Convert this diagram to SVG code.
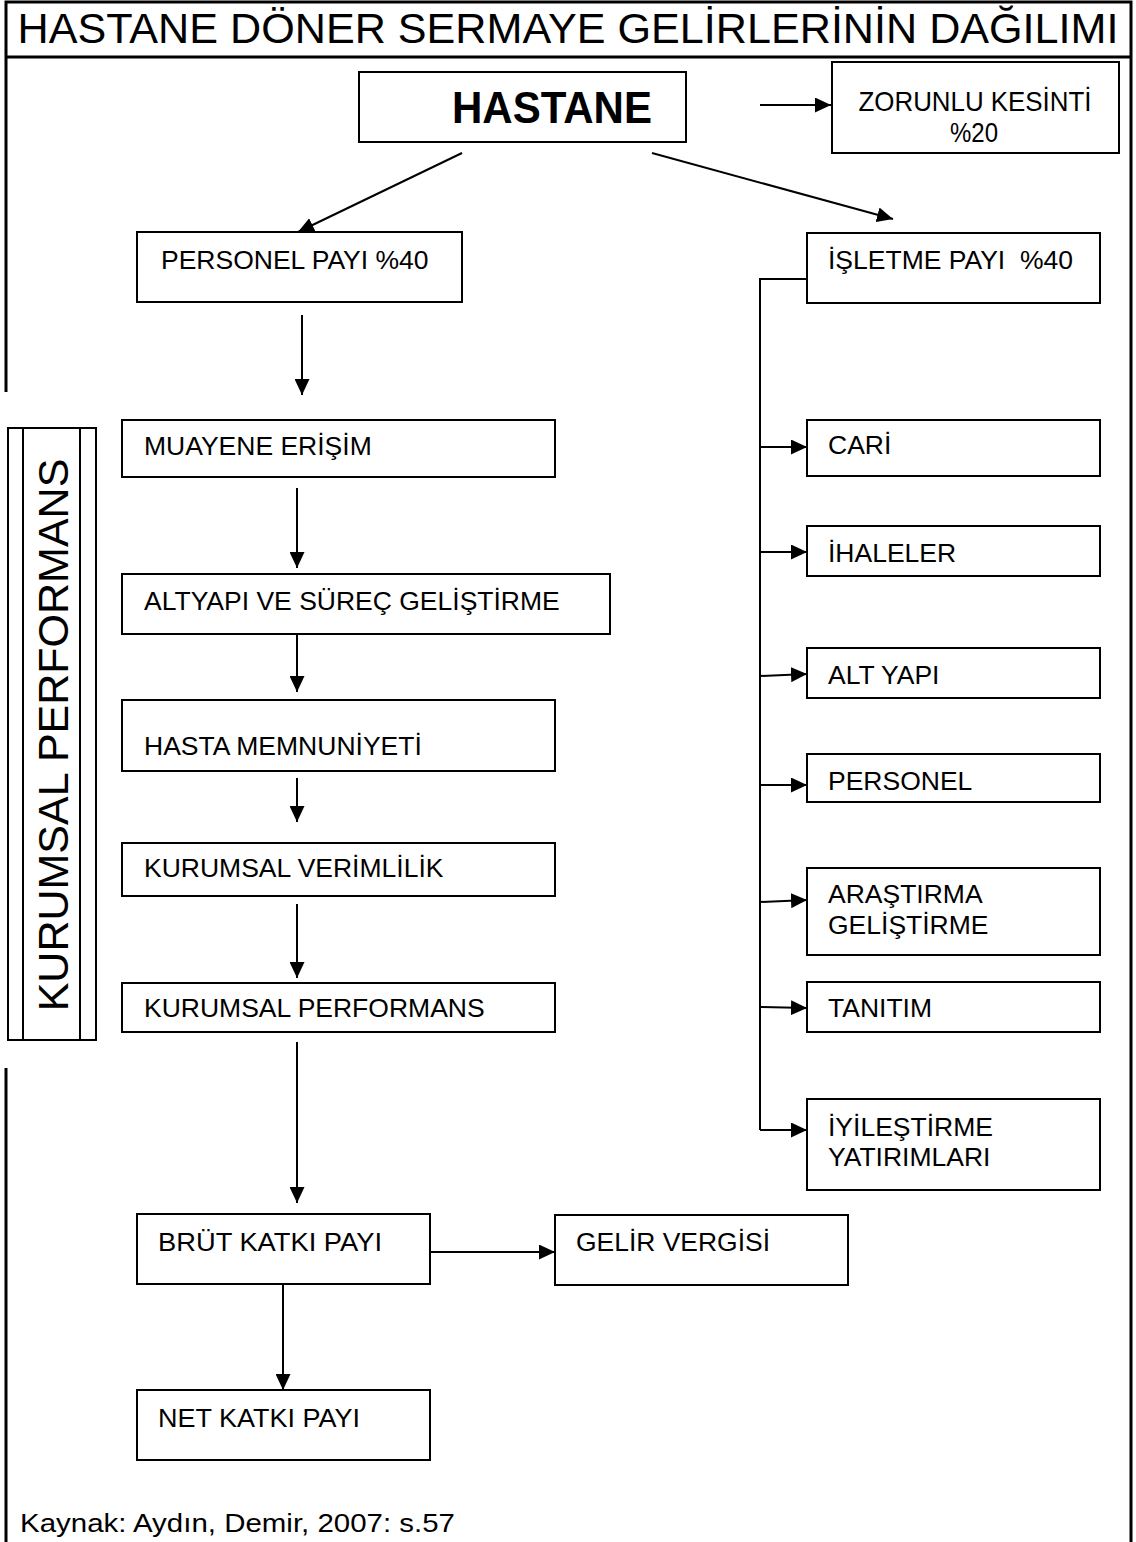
<svg xmlns="http://www.w3.org/2000/svg" width="1136" height="1542" viewBox="0 0 1136 1542">
<defs>
<marker id="ah" viewBox="0 0 16 15" refX="16" refY="7.5" markerWidth="16" markerHeight="15" markerUnits="userSpaceOnUse" orient="auto"><path d="M0,0 L16,7.5 L0,15 z" fill="#000"/></marker>
<style>
.box{fill:#fff;stroke:#000;stroke-width:2}
.frame{fill:none;stroke:#000;stroke-width:3}
.con{fill:none;stroke:#000;stroke-width:2}
.arr{fill:none;stroke:#000;stroke-width:2;marker-end:url(#ah)}
text{font-family:"Liberation Sans",Arial,sans-serif;fill:#000}
.lbl{font-size:26.5px}
.nar{font-size:28px}
</style>
</defs>
<rect width="1136" height="1542" fill="#fff"/>
<g id="frame">
<path class="frame" d="M6,392 V2 H1131 V1542"/>
<path class="frame" d="M6,1068 V1542"/>
<path class="frame" d="M6,57 H1131"/>
<text x="568" y="43" font-size="43" text-anchor="middle" textLength="1101" lengthAdjust="spacingAndGlyphs">HASTANE DÖNER SERMAYE GELİRLERİNİN DAĞILIMI</text>
</g>
<g id="connectors">
<path class="arr" d="M760,105 H831"/>
<path class="arr" d="M462,153 L298,232"/>
<path class="arr" d="M652,153 L893,219"/>
<path class="arr" d="M302,315 V395"/>
<path class="con" d="M807,279 H760 V1130"/>
<path class="arr" d="M760,447 H807"/>
<path class="arr" d="M760,552 H807"/>
<path class="arr" d="M760,676 L807,674"/>
<path class="arr" d="M760,785 H807"/>
<path class="arr" d="M760,902 L807,900"/>
<path class="arr" d="M760,1007 L807,1008"/>
<path class="arr" d="M760,1130 H807"/>
<path class="arr" d="M297,488 V568"/>
<path class="arr" d="M297,634 V692"/>
<path class="arr" d="M297,778 V822"/>
<path class="arr" d="M297,904 V978"/>
<path class="arr" d="M297,1042 V1203"/>
<path class="arr" d="M431,1252 H555"/>
<path class="arr" d="M283,1284 V1390"/>
</g>
<g id="hastane">
<rect class="box" x="359" y="72" width="327" height="70"/>
<text x="552" y="123" font-size="44" font-weight="bold" text-anchor="middle" textLength="200" lengthAdjust="spacingAndGlyphs">HASTANE</text>
</g>
<g id="zorunlu">
<rect class="box" x="832" y="62" width="287" height="91"/>
<text class="nar" x="975" y="111" text-anchor="middle" textLength="233" lengthAdjust="spacingAndGlyphs">ZORUNLU KESİNTİ</text>
<text class="nar" x="974" y="142" text-anchor="middle" textLength="48" lengthAdjust="spacingAndGlyphs">%20</text>
</g>
<g id="personel-payi">
<rect class="box" x="137" y="232" width="325" height="70"/>
<text class="lbl" x="161" y="269">PERSONEL PAYI %40</text>
</g>
<g id="isletme-payi">
<rect class="box" x="807" y="233" width="293" height="70"/>
<text class="lbl" x="828" y="269" xml:space="preserve">İŞLETME PAYI  %40</text>
</g>
<g id="kurumsal-label">
<rect class="box" x="8" y="428" width="88" height="612"/>
<line class="con" x1="23" y1="428" x2="23" y2="1040"/>
<line class="con" x1="80" y1="428" x2="80" y2="1040"/>
<text transform="translate(68,735) rotate(-90)" font-size="43" text-anchor="middle">KURUMSAL PERFORMANS</text>
</g>
<g id="muayene">
<rect class="box" x="122" y="420" width="433" height="57"/>
<text class="lbl" x="144" y="455">MUAYENE ERİŞİM</text>
</g>
<g id="altyapi-surec">
<rect class="box" x="122" y="574" width="488" height="60"/>
<text class="lbl" x="144" y="610">ALTYAPI VE SÜREÇ GELİŞTİRME</text>
</g>
<g id="hasta-memnuniyeti">
<rect class="box" x="122" y="700" width="433" height="71"/>
<text class="lbl" x="144" y="755">HASTA MEMNUNİYETİ</text>
</g>
<g id="kurumsal-verimlilik">
<rect class="box" x="122" y="843" width="433" height="53"/>
<text class="lbl" x="144" y="877">KURUMSAL VERİMLİLİK</text>
</g>
<g id="kurumsal-performans">
<rect class="box" x="122" y="983" width="433" height="49"/>
<text class="lbl" x="144" y="1017">KURUMSAL PERFORMANS</text>
</g>
<g id="cari">
<rect class="box" x="807" y="420" width="293" height="56"/>
<text class="lbl" x="828" y="454">CARİ</text>
</g>
<g id="ihaleler">
<rect class="box" x="807" y="526" width="293" height="50"/>
<text class="lbl" x="828" y="562">İHALELER</text>
</g>
<g id="alt-yapi">
<rect class="box" x="807" y="648" width="293" height="50"/>
<text class="lbl" x="828" y="684">ALT YAPI</text>
</g>
<g id="personel">
<rect class="box" x="807" y="754" width="293" height="48"/>
<text class="lbl" x="828" y="790">PERSONEL</text>
</g>
<g id="arastirma">
<rect class="box" x="807" y="868" width="293" height="87"/>
<text class="lbl" x="828" y="903">ARAŞTIRMA</text>
<text class="lbl" x="828" y="934">GELİŞTİRME</text>
</g>
<g id="tanitim">
<rect class="box" x="807" y="982" width="293" height="50"/>
<text class="lbl" x="828" y="1017">TANITIM</text>
</g>
<g id="iyilestirme">
<rect class="box" x="807" y="1099" width="293" height="91"/>
<text class="lbl" x="828" y="1136">İYİLEŞTİRME</text>
<text class="lbl" x="828" y="1166">YATIRIMLARI</text>
</g>
<g id="brut">
<rect class="box" x="137" y="1214" width="293" height="70"/>
<text class="lbl" x="158" y="1251" textLength="224" lengthAdjust="spacingAndGlyphs">BRÜT KATKI PAYI</text>
</g>
<g id="gelir-vergisi">
<rect class="box" x="555" y="1215" width="293" height="70"/>
<text class="lbl" x="576" y="1251" textLength="194" lengthAdjust="spacingAndGlyphs">GELİR VERGİSİ</text>
</g>
<g id="net">
<rect class="box" x="137" y="1390" width="293" height="70"/>
<text class="lbl" x="158" y="1427" textLength="202" lengthAdjust="spacingAndGlyphs">NET KATKI PAYI</text>
</g>
<g id="kaynak">
<text x="20" y="1532" font-size="25" textLength="435" lengthAdjust="spacingAndGlyphs">Kaynak: Aydın, Demir, 2007: s.57</text>
</g>
</svg>
